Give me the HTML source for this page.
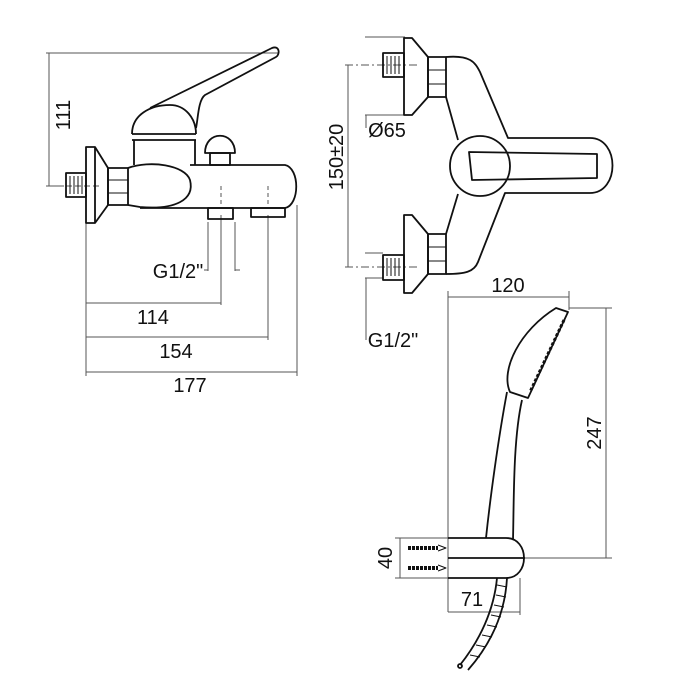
<!DOCTYPE html>
<html><head><meta charset="utf-8"><style>
html,body{margin:0;padding:0;background:#fff;}
svg{display:block;}
text{font-family:"Liberation Sans Narrow","Liberation Sans",sans-serif;font-size:20px;fill:#111;}
</style></head><body>
<svg width="700" height="700" viewBox="0 0 700 700" xmlns="http://www.w3.org/2000/svg">
<g fill="none" stroke="#555" stroke-width="1">
<!-- left view dims -->
<line x1="46" y1="53" x2="278" y2="53"/>
<line x1="49" y1="53" x2="49" y2="186"/>
<line x1="46" y1="186" x2="64" y2="186"/>
<line x1="86" y1="223" x2="86" y2="376"/>
<line x1="297" y1="205" x2="297" y2="376"/>
<line x1="221" y1="215" x2="221" y2="305"/>
<line x1="268" y1="215" x2="268" y2="340"/>
<line x1="221" y1="186" x2="221" y2="205" stroke-dasharray="4,3"/>
<line x1="268" y1="186" x2="268" y2="205" stroke-dasharray="4,3"/>
<line x1="86" y1="303" x2="221" y2="303"/>
<line x1="86" y1="337" x2="268" y2="337"/>
<line x1="86" y1="372" x2="297" y2="372"/>
<line x1="208" y1="222" x2="208" y2="271"/>
<line x1="235" y1="222" x2="235" y2="271"/>
<line x1="204" y1="270" x2="208" y2="270"/>
<line x1="235" y1="270" x2="240" y2="270"/>
<line x1="66" y1="186" x2="100" y2="186" stroke-dasharray="6,3"/>
<!-- right view dims -->
<line x1="365" y1="37" x2="405" y2="37"/>
<line x1="365" y1="115" x2="404" y2="115"/>
<line x1="366" y1="115" x2="366" y2="128"/>
<line x1="345" y1="65" x2="420" y2="65" stroke-dasharray="8,3,2,3"/>
<line x1="345" y1="267" x2="420" y2="267" stroke-dasharray="8,3,2,3"/>
<line x1="348" y1="65" x2="348" y2="267"/>
<line x1="365" y1="253" x2="383" y2="253"/>
<line x1="365" y1="278" x2="383" y2="278"/>
<line x1="366" y1="278" x2="366" y2="340"/>
<!-- shower dims -->
<line x1="448" y1="297" x2="569" y2="297"/>
<line x1="448" y1="291" x2="448" y2="612"/>
<line x1="569" y1="291" x2="569" y2="310"/>
<line x1="569" y1="308" x2="612" y2="308"/>
<line x1="520" y1="558" x2="612" y2="558"/>
<line x1="606" y1="308" x2="606" y2="558"/>
<line x1="395" y1="538" x2="448" y2="538"/>
<line x1="395" y1="578" x2="448" y2="578"/>
<line x1="400" y1="538" x2="400" y2="578"/>
<line x1="520" y1="578" x2="520" y2="615"/>
<line x1="448" y1="612" x2="520" y2="612"/>
</g>
<g fill="none" stroke="#111" stroke-width="1.8" stroke-linejoin="round">
<!-- left mixer -->
<rect x="66" y="173" width="20" height="24"/>
<path d="M70 176v18M74 176v18M78 176v18M82 176v18" stroke-width="1"/>
<path d="M86 147h9l13 21v37l-13 18h-9z"/>
<line x1="95" y1="147" x2="95" y2="223"/>
<rect x="108" y="168" width="20" height="37"/>
<line x1="108" y1="180" x2="128" y2="180" stroke-width="1"/>
<line x1="108" y1="193" x2="128" y2="193" stroke-width="1"/>
<path d="M128 168 C150 160 185 165 190 180 C195 200 175 210 140 207 L128 205"/>
<path d="M190 165 L285 165 C300 168 300 205 285 208 L140 208"/>
<path d="M134 165 L134 140 M195 140 L195 165 M132 140 h64 M132 134h64"/>
<path d="M132 134 C132 115 150 105 170 105 C185 105 196 118 196 134"/>
<path d="M150 108 L272 48 C280 45 280 55 276 57 L205 95 C198 100 198 120 196 128"/>
<path d="M205 153 C205 130 235 130 235 153 z"/>
<rect x="210" y="153" width="20" height="12"/>
<rect x="208" y="208" width="25" height="11"/>
<rect x="251" y="208" width="34" height="9"/>
<!-- right mixer top -->
<rect x="383" y="53" width="21" height="24"/>
<path d="M387 56v18M391 56v18M395 56v18M399 56v18" stroke-width="1"/>
<path d="M404 38h8l16 19v40l-16 18h-8z"/>
<rect x="428" y="57" width="18" height="40"/>
<line x1="428" y1="70" x2="446" y2="70" stroke-width="1"/>
<line x1="428" y1="84" x2="446" y2="84" stroke-width="1"/>
<!-- bottom -->
<rect x="383" y="255" width="21" height="25"/>
<path d="M387 258v18M391 258v18M395 258v18M399 258v18" stroke-width="1"/>
<path d="M404 215h8l16 19v40l-16 19h-8z"/>
<rect x="428" y="234" width="18" height="40"/>
<line x1="428" y1="247" x2="446" y2="247" stroke-width="1"/>
<line x1="428" y1="261" x2="446" y2="261" stroke-width="1"/>
<!-- body -->
<path d="M446 57 C470 55 475 62 480 72 L508 138 L590 138 C620 138 620 193 590 193 L505 193 L478 262 C474 272 465 274 446 274"/>
<path d="M446 97 L458 140 M458 194 L446 234"/>
<circle cx="480" cy="166" r="30"/>
<path d="M469 152 L597 154 L597 178 L472 180 z"/>
<!-- shower -->
<path d="M510 392 C500 370 520 330 556 308 L568 312 L528 398 z"/>
<path d="M564 320 L530 392" stroke-dasharray="3,2" stroke-width="3"/>
<path d="M507 392 C498 440 490 500 486 538 M522 400 C513 440 514 500 513 540"/>
<path d="M448 538 H506 C530 538 530 578 506 578 H448 M448 558 H525"/>
<path d="M497 578 C494 610 480 640 460 665 M507 578 C505 615 490 645 468 670" />
<path d="M497 585 l10 2 M496 595l10 2M494 605l10 2M491 615l10 2M487 625l10 2M482 635l10 2M476 645l10 2M470 655l10 2" stroke-width="1"/>
<circle cx="460" cy="666" r="2"/>
<path d="M408 548 h30 M408 568 h30" stroke-width="4" stroke-dasharray="3,1"/>
<path d="M438 545 l8 3 l-8 3 M438 565 l8 3 l-8 3" stroke-width="1"/>
</g>
<g>
<text x="70" y="115" transform="rotate(-90 70 115)" text-anchor="middle">111</text>
<text x="178" y="278" text-anchor="middle">G1/2"</text>
<text x="153" y="324" text-anchor="middle">114</text>
<text x="176" y="358" text-anchor="middle">154</text>
<text x="190" y="392" text-anchor="middle">177</text>
<text x="343" y="157" transform="rotate(-90 343 157)" text-anchor="middle">150±20</text>
<text x="387" y="137" text-anchor="middle">Ø65</text>
<text x="393" y="347" text-anchor="middle">G1/2"</text>
<text x="508" y="292" text-anchor="middle">120</text>
<text x="601" y="433" transform="rotate(-90 601 433)" text-anchor="middle">247</text>
<text x="392" y="558" transform="rotate(-90 392 558)" text-anchor="middle">40</text>
<text x="472" y="606" text-anchor="middle">71</text>
</g>
</svg>
</body></html>
